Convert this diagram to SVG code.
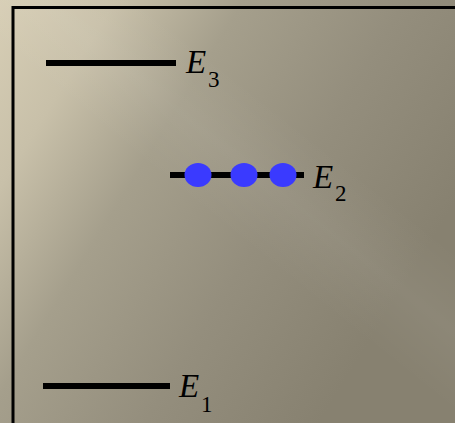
<svg xmlns="http://www.w3.org/2000/svg" width="455" height="423" viewBox="0 0 455 423">
<defs>
<linearGradient id="bg" gradientUnits="userSpaceOnUse" x1="0" y1="0" x2="420" y2="260">
<stop offset="0" stop-color="#d7ceb5"/>
<stop offset="0.2" stop-color="#c8c0a9"/>
<stop offset="0.42" stop-color="#a59f8c"/>
<stop offset="0.7" stop-color="#948e7d"/>
<stop offset="1" stop-color="#878170"/>
</linearGradient>
<linearGradient id="streak" gradientUnits="userSpaceOnUse" x1="230" y1="70" x2="150" y2="170">
<stop offset="0" stop-color="#ffffff" stop-opacity="0"/>
<stop offset="0.5" stop-color="#ffffff" stop-opacity="0.05"/>
<stop offset="1" stop-color="#ffffff" stop-opacity="0"/>
</linearGradient>
</defs>
<style>
.lvl{stroke:#000;stroke-width:6;fill:none}
.e{font-family:"Liberation Serif","Times New Roman",serif;font-style:italic;font-size:33px;fill:#000}
.s{font-family:"Liberation Serif","Times New Roman",serif;font-size:23px;fill:#000}
.dot{fill:#3a3aff}
</style>
<rect x="0" y="0" width="455" height="423" fill="url(#bg)"/>
<rect x="0" y="0" width="455" height="423" fill="url(#streak)"/>
<rect x="13" y="7.5" width="460" height="430" fill="none" stroke="#000" stroke-width="3"/>
<g id="E3">
<line class="lvl" x1="46" y1="63" x2="176" y2="63"/>
<text class="e" x="186" y="72.5">E</text>
<text class="s" x="208" y="86.5">3</text>
</g>
<g id="E2">
<line class="lvl" x1="170" y1="175" x2="304" y2="175"/>
<ellipse class="dot" cx="198" cy="175" rx="13.5" ry="12"/>
<ellipse class="dot" cx="244" cy="175" rx="13.5" ry="12"/>
<ellipse class="dot" cx="283" cy="175" rx="13.5" ry="12"/>
<text class="e" x="313" y="188">E</text>
<text class="s" x="335" y="200.5">2</text>
</g>
<g id="E1">
<line class="lvl" x1="43" y1="386" x2="170" y2="386"/>
<text class="e" x="179" y="397">E</text>
<text class="s" x="201" y="412">1</text>
</g>
<g id="connectors"/>
</svg>
